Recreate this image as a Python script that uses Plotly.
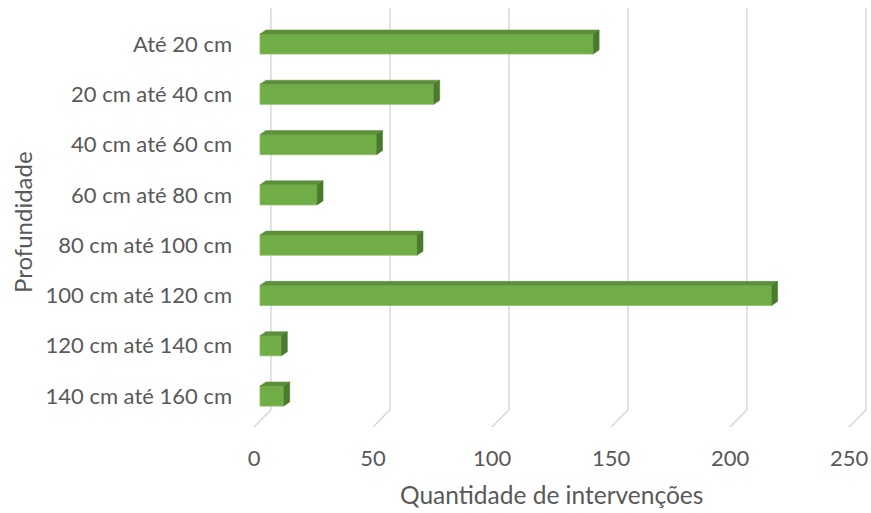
import plotly.graph_objects as go

categories = ["Até 20 cm", "20 cm até 40 cm", "40 cm até 60 cm", "60 cm até 80 cm",
              "80 cm até 100 cm", "100 cm até 120 cm", "120 cm até 140 cm", "140 cm até 160 cm"]
values = [140, 73, 49, 24, 66, 215, 9, 10]
x_ticks = [0, 50, 100, 150, 200, 250]
x_title = "Quantidade de intervenções"
y_title = "Profundidade"

FONT = "Lato"
TXT = "#595959"
FRONT = "#70AD47"
TOP = "#5B8F39"
SIDE = "#4A7A2C"
GRID = "#D9D9D9"

bar_w = 0.4      # bar thickness in category units
dx = 2.5         # depth offset in value units
dy = 0.08        # depth offset in category units
back_dx = 4.6    # back wall offset
y_top = -0.716
y_bottom = 7.616
floor_back = 7.276

ypos = list(range(len(categories)))

fig = go.Figure()

# gridlines (back wall + floor), derived from tick values
for t in x_ticks:
    fig.add_shape(type="line", xref="x", yref="y", x0=t + back_dx, x1=t + back_dx,
                  y0=y_top, y1=floor_back, line=dict(color=GRID, width=1.5), layer="below")
    fig.add_shape(type="line", xref="x", yref="y", x0=t + back_dx, x1=t - dx,
                  y0=floor_back, y1=y_bottom, line=dict(color=GRID, width=1.5), layer="below")

# front faces
fig.add_trace(go.Bar(y=ypos, x=values, orientation="h", width=bar_w,
                     marker=dict(color=FRONT, line=dict(color="#8CC265", width=0.8)),
                     hoverinfo="x+y", showlegend=False))

# top faces and side faces
tx, ty, sx, sy = [], [], [], []
for yc, v in zip(ypos, values):
    top = yc - bar_w / 2
    bot = yc + bar_w / 2
    tx += [0, v, v + dx, dx, 0, None]
    ty += [top, top, top - dy, top - dy, top, None]
    sx += [v, v + dx, v + dx, v, v, None]
    sy += [top, top - dy, bot - dy, bot, top, None]

fig.add_trace(go.Scatter(x=tx, y=ty, fill="toself", fillcolor=TOP, mode="lines",
                         line=dict(color=TOP, width=0.5), hoverinfo="skip", showlegend=False))
fig.add_trace(go.Scatter(x=sx, y=sy, fill="toself", fillcolor=SIDE, mode="lines",
                         line=dict(color=SIDE, width=0.5), hoverinfo="skip", showlegend=False))

fig.update_layout(
    width=871, height=513,
    margin=dict(l=245, r=1, t=8, b=86),
    paper_bgcolor="white", plot_bgcolor="white",
    font=dict(family=FONT, size=22, color=TXT),
    xaxis=dict(range=[-6.3, 256.3], showgrid=False, zeroline=False, showline=False,
               tickvals=[t - dx for t in x_ticks], ticktext=[str(t) for t in x_ticks],
               ticklabelstandoff=16, tickfont=dict(size=22, color=TXT), fixedrange=True),
    yaxis=dict(range=[y_bottom, y_top], showgrid=False, zeroline=False, showline=False,
               tickvals=ypos, ticktext=categories, ticklabelstandoff=12,
               tickfont=dict(size=22, color=TXT), fixedrange=True),
    annotations=[
        dict(text=x_title, xref="paper", yref="paper", x=0.491, y=-0.162,
             xanchor="center", yanchor="middle", showarrow=False,
             font=dict(family=FONT, size=24.5, color=TXT)),
        dict(text=y_title, xref="paper", yref="paper", x=-0.357, y=0.489,
             xanchor="center", yanchor="middle", showarrow=False, textangle=-90,
             font=dict(family=FONT, size=24, color=TXT)),
    ],
)

fig.write_html("out.html")
